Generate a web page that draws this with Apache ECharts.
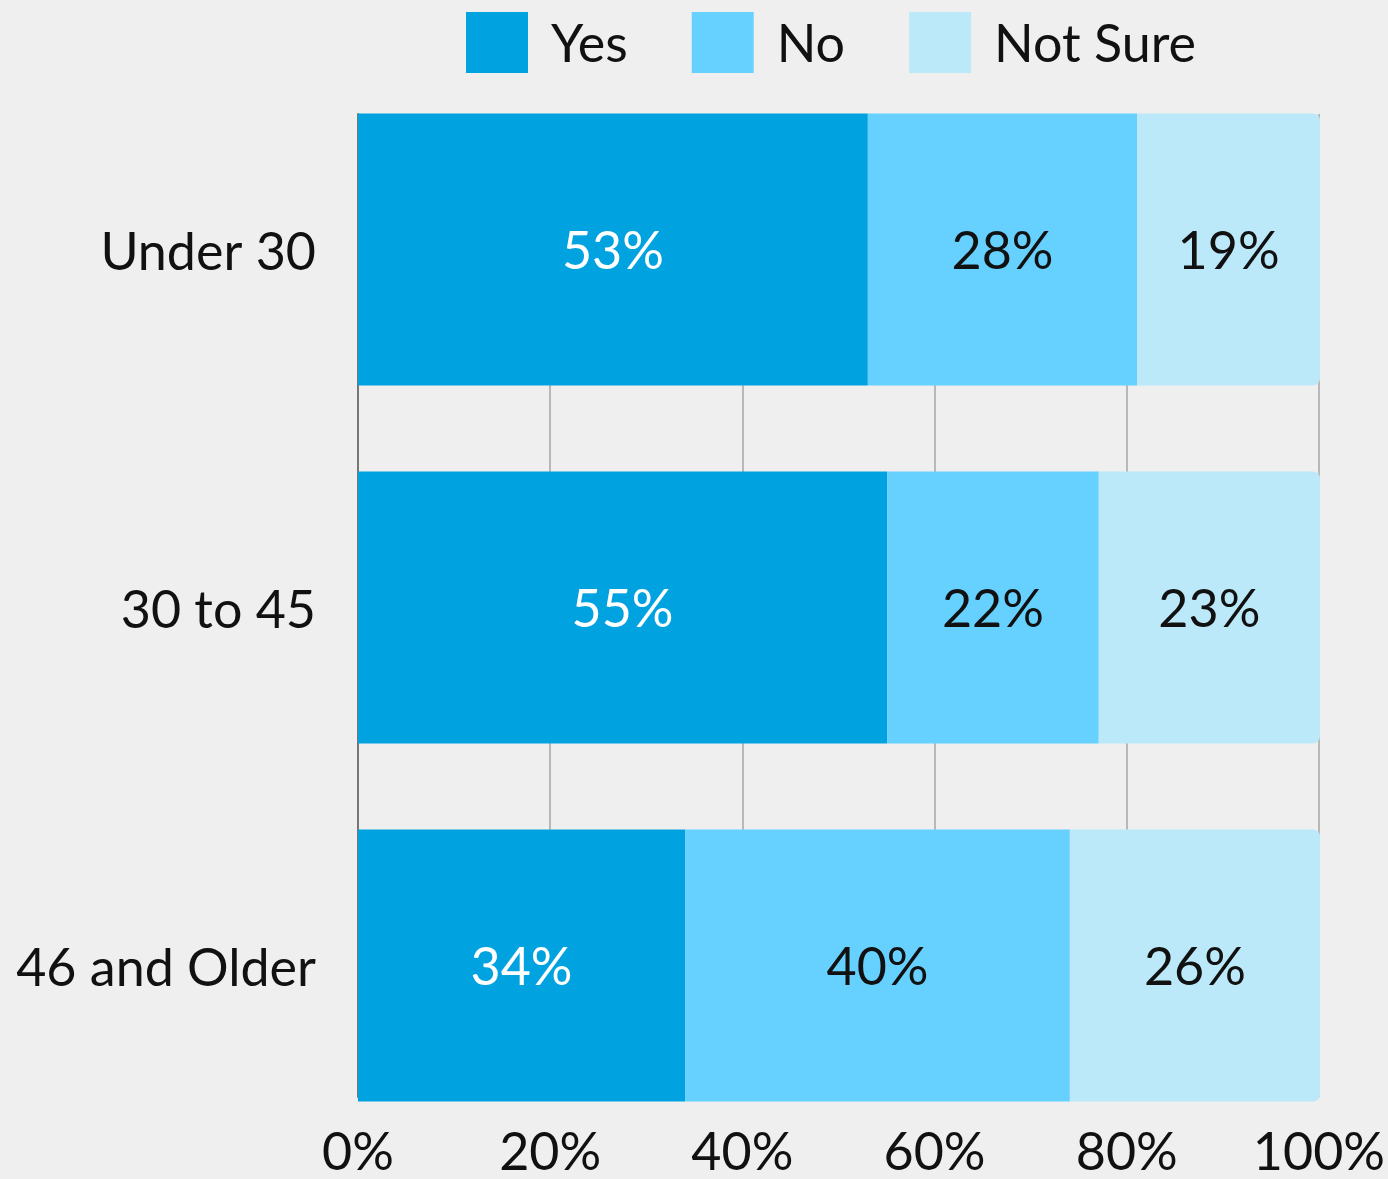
<!DOCTYPE html>
<html>
<head>
<meta charset="utf-8">
<script src="https://cdn.jsdelivr.net/npm/echarts@6/dist/echarts.min.js"></script>
<style>
html,body{margin:0;padding:0;background:#efefef;}
#main{width:1388px;height:1179px;}
</style>
</head>
<body>
<div id="main"></div>
<script>
const categories = ['Under 30', '30 to 45', '46 and Older'];
const seriesNames = ['Yes', 'No', 'Not Sure'];
const yesValues = [53, 55, 34];
const noValues = [28, 22, 40];
const notSureValues = [19, 23, 26];
const xTicks = [0, 20, 40, 60, 80, 100];

const colors = ['#00a3e0', '#66d1ff', '#bbe9f9'];
const FONT = 'Lato, "Noto Sans", sans-serif';

const chart = echarts.init(document.getElementById('main'), null, {renderer: 'canvas'});

function labelCfg(color) {
  return {
    show: true,
    position: 'inside',
    formatter: p => p.value + '%',
    color: color,
    fontFamily: FONT,
    fontSize: 52,
    offset: [0, 3]
  };
}

const option = {
  backgroundColor: '#efefef',
  animation: false,
  color: colors,
  legend: {
    top: 7,
    left: 461,
    itemWidth: 62,
    itemHeight: 61,
    itemGap: 64,
    icon: 'rect',
    formatter: n => '{a|' + n + '}',
    textStyle: {
      fontFamily: FONT, fontSize: 52, color: '#111',
      rich: {a: {fontFamily: FONT, fontSize: 52, color: '#111', padding: [6, 0, 0, 18]}}
    },
    data: seriesNames
  },
  grid: [
    {left: 358, right: 68, top: 114, bottom: 77, containLabel: false},
    {left: 358, right: 68, top: 70.5, bottom: 34.5, containLabel: false}
  ],
  xAxis: [
    {
      gridIndex: 0, type: 'value', min: xTicks[0], max: xTicks[xTicks.length - 1], interval: 20,
      axisLine: {show: false}, axisTick: {show: false},
      splitLine: {show: true, lineStyle: {color: '#b8b8b8', width: 2}},
      axisLabel: {formatter: '{value}%', fontFamily: FONT, fontSize: 52, color: '#111', margin: 30}
    },
    {
      gridIndex: 1, type: 'value', min: 0, max: 100, show: false
    }
  ],
  yAxis: [
    {
      gridIndex: 0, type: 'category', data: categories, inverse: true,
      axisLine: {show: true, lineStyle: {color: '#777', width: 2}},
      axisTick: {show: false}, axisLabel: {show: false}, splitLine: {show: false}
    },
    {
      gridIndex: 1, type: 'category', data: categories, inverse: true,
      axisLine: {show: false}, axisTick: {show: false},
      axisLabel: {
        fontFamily: FONT, fontSize: 52, color: '#111', margin: 42,
        formatter: v => '{a|' + v + '}',
        rich: {a: {fontFamily: FONT, fontSize: 52, color: '#111', padding: [7, 0, 0, 0]}}
      }
    }
  ],
  series: [
    {name: seriesNames[0], type: 'bar', stack: 's', xAxisIndex: 1, yAxisIndex: 1, barWidth: 272,
     data: yesValues, label: labelCfg('#ffffff'), itemStyle: {color: colors[0]}},
    {name: seriesNames[1], type: 'bar', stack: 's', xAxisIndex: 1, yAxisIndex: 1, barWidth: 272,
     data: noValues, label: labelCfg('#111'), itemStyle: {color: colors[1]}},
    {name: seriesNames[2], type: 'bar', stack: 's', xAxisIndex: 1, yAxisIndex: 1, barWidth: 272,
     data: notSureValues, label: labelCfg('#111'), itemStyle: {color: colors[2], borderRadius: [0, 7, 7, 0]}}
  ]
};
chart.setOption(option);
</script>
</body>
</html>
